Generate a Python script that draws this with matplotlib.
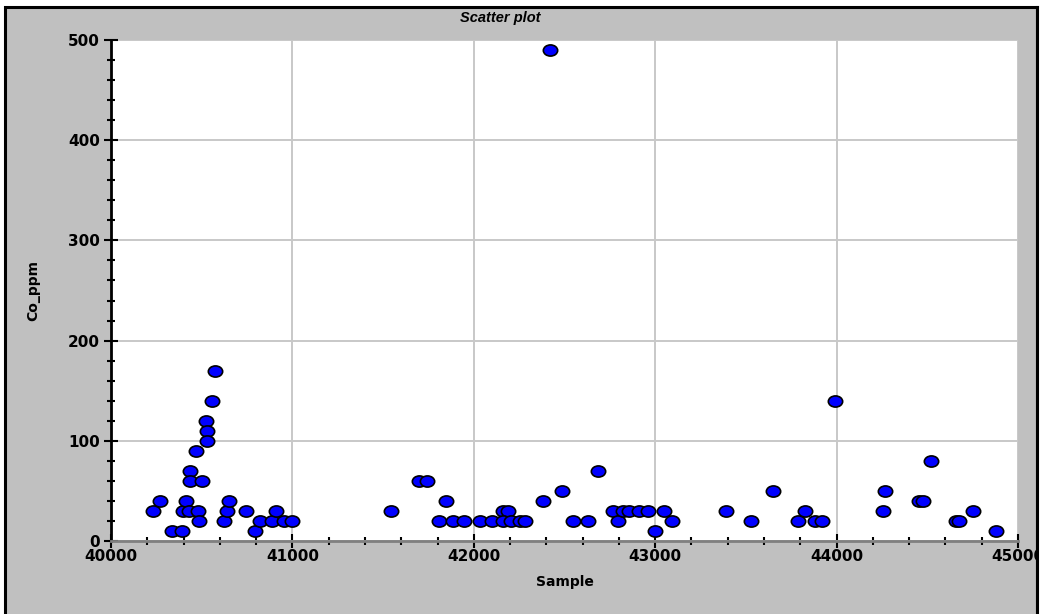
#%%
import numpy as np
import matplotlib.pyplot as plt
from matplotlib.path import Path
from matplotlib.transforms import Affine2D
from matplotlib.patches import Rectangle
from matplotlib.ticker import MultipleLocator

#%%
# sample number vs cobalt assay
sample = [40232, 40270, 40336, 40393, 40399, 40412, 40430, 40435, 40435, 40470,
          40481, 40485, 40503, 40522, 40529, 40529, 40555, 40576, 40625, 40638,
          40650, 40742, 40794, 40821, 40889, 40908, 40954, 40999,
          41544, 41700, 41742, 41810, 41845, 41887, 41948, 42036, 42100, 42163,
          42190, 42163, 42205, 42255, 42282, 42383, 42420, 42486, 42548, 42631,
          42683, 42769, 42793, 42824, 42856, 42912, 42958, 43001, 43050, 43093,
          43392, 43528, 43649, 43786, 43826, 43879, 43918, 43991, 44256, 44265,
          44454, 44478, 44519, 44660, 44675, 44750, 44879]
co_ppm = [30, 40, 10, 10, 30, 40, 30, 70, 60, 90,
          30, 20, 60, 120, 110, 100, 140, 170, 20, 30,
          40, 30, 10, 20, 20, 30, 20, 20,
          30, 60, 60, 20, 40, 20, 20, 20, 20, 30,
          30, 20, 20, 20, 20, 40, 490, 50, 20, 20,
          70, 30, 20, 30, 30, 30, 30, 10, 30, 20,
          30, 20, 50, 20, 30, 20, 20, 140, 30, 50,
          40, 40, 80, 20, 20, 30, 10]

x_ticks = [40000, 41000, 42000, 43000, 44000, 45000]
y_ticks = [0, 100, 200, 300, 400, 500]

#%%
W, H = 1042, 614
fig = plt.figure(figsize=(W / 100, H / 100), dpi=100)
fig.patch.set_facecolor('white')

# grey panel with black frame (bottom edge runs off the image)
panel = Rectangle((5 / W, -0.05), 1032 / W, 1 - 7 / H + 0.05, transform=fig.transFigure,
                  facecolor='#c0c0c0', edgecolor='black', linewidth=2.2, zorder=-1)
fig.patches.append(panel)

ax = fig.add_axes([111 / W, 1 - 541 / H, 907 / W, 501 / H])
ax.set_facecolor('white')

# oval markers, wider than tall
oval = Path.unit_circle().transformed(Affine2D().scale(1.0, 0.78))
ax.plot(sample, co_ppm, linestyle='none', marker=oval, markersize=10.3,
        markerfacecolor='#0000ff', markeredgecolor='black', markeredgewidth=1.2,
        zorder=3, clip_on=False)

ax.set_xlim(40000, 45000)
ax.set_ylim(0, 500)
ax.set_xticks(x_ticks)
ax.set_yticks(y_ticks)
ax.xaxis.set_minor_locator(MultipleLocator(200))
ax.yaxis.set_minor_locator(MultipleLocator(20))

ax.grid(True, which='major', color='#c8c8c8', linewidth=1.4, zorder=0)
ax.set_axisbelow(True)

for s in ['top', 'right']:
    ax.spines[s].set_visible(False)
ax.spines['left'].set_color('black')
ax.spines['left'].set_linewidth(2)
ax.spines['bottom'].set_color('#808080')
ax.spines['bottom'].set_linewidth(2)

ax.tick_params(axis='both', which='major', direction='inout', length=10, width=1.5,
               color='black', labelsize=11)
ax.tick_params(axis='both', which='minor', direction='inout', length=6, width=1.5,
               color='black')
ax.tick_params(axis='x', which='major', pad=1)
ax.tick_params(axis='y', which='major', pad=3)
for lab in ax.get_xticklabels() + ax.get_yticklabels():
    lab.set_fontweight('bold')

ax.set_xlabel('Sample', fontsize=10, fontweight='bold', labelpad=8)
ax.set_ylabel('Co_ppm', fontsize=10, fontweight='bold', labelpad=20)

fig.text(500 / W, 1 - 18 / H, 'Scatter plot', ha='center', va='center',
         fontsize=10.5, fontweight='bold', fontstyle='italic',
         family=['Liberation Sans', 'DejaVu Sans'])

# right frame edge sits on top of the last tick label
fig.patches.append(Rectangle((1038.2 / W, 0), 10 / W, 1 - 8 / H, transform=fig.transFigure,
                             facecolor='white', edgecolor='none', zorder=10))
fig.lines.append(plt.Line2D([1037 / W, 1037 / W], [0, 1 - 7 / H], transform=fig.transFigure,
                            color='black', linewidth=2.2, zorder=11))

fig.savefig('out.png', dpi=100)
